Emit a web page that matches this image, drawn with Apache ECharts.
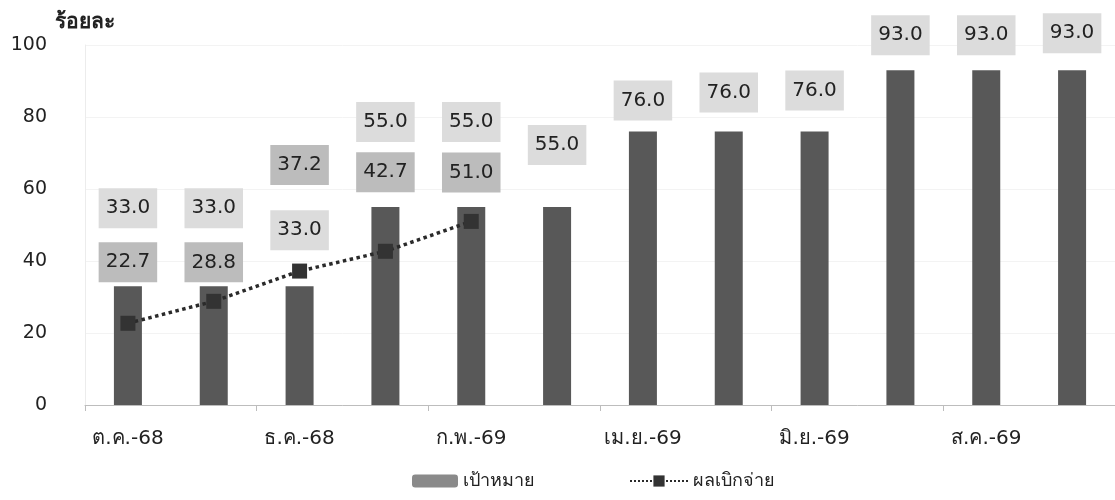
<!DOCTYPE html>
<html><head><meta charset="utf-8">
<script src="https://cdn.jsdelivr.net/npm/echarts@6/dist/echarts.min.js"></script>
<style>html,body{margin:0;padding:0;background:#fff}#c{width:1115px;height:500px}</style>
</head><body><div id="c"></div>
<script>
const months = ['ต.ค.-68','พ.ย.-68','ธ.ค.-68','ม.ค.-69','ก.พ.-69','มี.ค.-69','เม.ย.-69','พ.ค.-69','มิ.ย.-69','ก.ค.-69','ส.ค.-69','ก.ย.-69'];
const targetPct = [33.0,33.0,33.0,55.0,55.0,55.0,76.0,76.0,76.0,93.0,93.0,93.0];
const actualPct = [22.7,28.8,37.2,42.7,51.0];
const yTicks = [0,20,40,60,80,100];
const seriesNames = ['เป้าหมาย','ผลเบิกจ่าย'];
const yName = 'ร้อยละ';
// label layout (pixels the label centre sits above its mark)
const targetLabelRise = [78,78,56,85,85,62,31,39,41,35,35,37];
const actualLabelRise = [61,39,106,79,49];

const FONT = "Tahoma, 'DejaVu Sans', 'Noto Sans', sans-serif";
const chart = echarts.init(document.getElementById('c'));
const labelBase = {show:true, fontFamily:FONT, fontSize:20, lineHeight:22, color:'#222',
  padding:[9,7], formatter:p=>Number(p.value).toFixed(1)};
chart.setOption({
  animation:false,
  textStyle:{fontFamily:FONT},
  grid:{left:85,right:0,top:45,bottom:95,outerBoundsMode:'none'},
  legend:[
    {left:407,top:467,itemWidth:46,itemHeight:13,
     textStyle:{fontSize:18,color:'#222',fontFamily:FONT},
     data:[{name:seriesNames[0],itemStyle:{color:'#8a8a8a'}}]},
    {left:624,top:467,itemWidth:58,itemHeight:14,
     textStyle:{fontSize:18,color:'#222',fontFamily:FONT},
     data:[seriesNames[1]]}
  ],
  xAxis:{type:'category',data:months,
    axisLine:{lineStyle:{color:'#bdbdbd',width:1}},
    axisTick:{show:true,interval:1,length:6,lineStyle:{color:'#bdbdbd'}},
    axisLabel:{interval:1,margin:24,fontSize:20,color:'#222',fontFamily:FONT}},
  yAxis:{type:'value',min:yTicks[0],max:yTicks[yTicks.length-1],interval:20,
    name:yName,nameLocation:'end',nameGap:12,
    nameTextStyle:{fontSize:21,fontWeight:'bold',color:'#222',align:'left',padding:[0,0,0,-30],fontFamily:FONT},
    axisLine:{show:true,lineStyle:{color:'#ececec'}},axisTick:{show:false},
    axisLabel:{fontSize:19,color:'#222',margin:10,padding:[0,28,0,0],fontFamily:FONT},
    splitLine:{lineStyle:{color:'#f3f3f3'}}},
  series:[
    {name:seriesNames[0],type:'bar',barWidth:28,
     itemStyle:{color:'#585858'},
     label:Object.assign({},labelBase,{position:'top',distance:5,backgroundColor:'#dcdcdc'}),
     data:targetPct.map((v,i)=>({value:v,label:{offset:[0,-(targetLabelRise[i]-25)]}}))},
    {name:seriesNames[1],type:'line',symbol:'rect',symbolSize:15,
     itemStyle:{color:'#333'},
     lineStyle:{type:'dotted',width:3.5,color:'#2a2a2a'},
     label:Object.assign({},labelBase,{position:'inside',backgroundColor:'#bcbcbc'}),
     data:actualPct.map((v,i)=>({value:v,label:{offset:[0,-actualLabelRise[i]]}})),
     z:5}
  ]
});
</script></body></html>
